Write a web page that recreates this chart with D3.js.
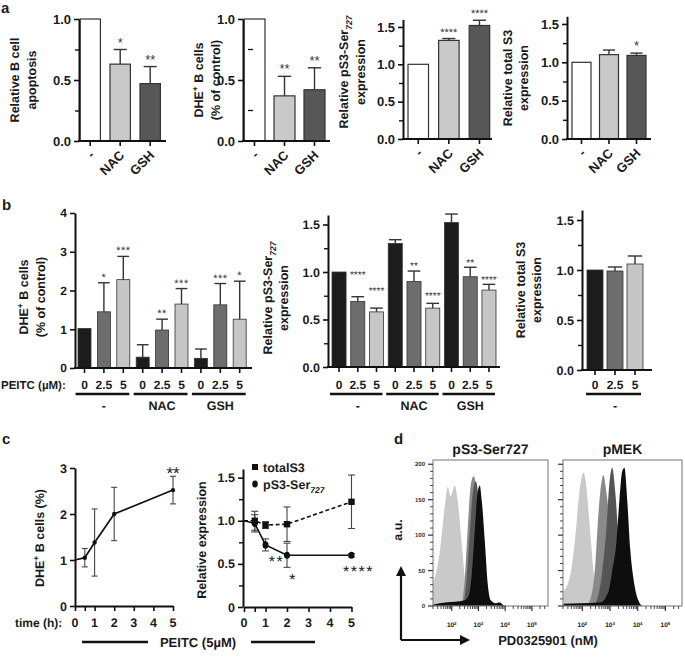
<!DOCTYPE html>
<html><head><meta charset="utf-8">
<script src="https://cdn.jsdelivr.net/npm/d3@7"></script>
<style>body{margin:0;background:#fff}svg{display:block}text{text-rendering:geometricPrecision}</style>
</head><body><svg id="c" width="685" height="657"></svg>
<script>
// ---------------- DATA ----------------
const aCats = ["-", "NAC", "GSH"];
const aApopVals = [1.0, 0.63, 0.47], aApopErr = [0, 0.12, 0.14], aApopSig = ["", "*", "**"];
const aDheVals = [1.0, 0.37, 0.42], aDheErr = [0, 0.16, 0.18], aDheSig = ["", "**", "**"];
const aPs3Vals = [1.0, 1.32, 1.52], aPs3Err = [0, 0.025, 0.07], aPs3Sig = ["", "****", "****"];
const aTotVals = [1.0, 1.10, 1.09], aTotErr = [0, 0.06, 0.03], aTotSig = ["", "", "*"];

const bGroups = ["-", "NAC", "GSH"];
const bDoses = ["0", "2.5", "5"];
const bDheVals = [1.02, 1.45, 2.28, 0.28, 0.98, 1.65, 0.25, 1.63, 1.26];
const bDheErr = [0, 0.75, 0.60, 0.32, 0.28, 0.40, 0.24, 0.55, 0.98];
const bDheSig = ["", "*", "***", "", "**", "***", "", "***", "*"];
const bPs3Vals = [1.0, 0.69, 0.58, 1.30, 0.90, 0.62, 1.52, 0.95, 0.81];
const bPs3Err = [0, 0.05, 0.04, 0.04, 0.11, 0.05, 0.09, 0.10, 0.06];
const bPs3Sig = ["", "****", "****", "", "**", "****", "", "**", "****"];
const bPs3SigAt = [null, 1.0, 0.83, null, 1.10, 0.78, null, 1.13, 0.95];
const bTotDoses = ["0", "2.5", "5"];
const bTotVals = [1.0, 0.99, 1.06], bTotErr = [0, 0.04, 0.08];

const cTimes = [0, 0.5, 1, 2, 5];
const cDheVals = [1.0, 1.05, 1.38, 2.0, 2.52], cDheErr = [0, 0.2, 0.73, 0.58, 0.3];
const cTotVals = [1.0, 1.0, 0.95, 0.96, 1.22], cTotErr = [0, 0.11, 0.04, 0.2, 0.31];
const cPs3Vals = [1.0, 0.97, 0.72, 0.6, 0.6], cPs3Err = [0, 0.1, 0.07, 0.14, 0.02];
const cPs3Sig = ["", "", "**", "*", "****"];
const cXTicks = [0, 1, 2, 3, 4, 5];

// flow histograms: [log10(intensity), count]
const dPs3Light = [[1.29,30],[1.55,75],[1.74,140],[1.85,168],[1.96,155],[2.11,170],[2.22,150],[2.37,90],[2.52,30],[2.67,5],[2.86,0]];
const dPs3Mid = [[2.37,0],[2.49,40],[2.60,110],[2.71,170],[2.82,183],[2.94,160],[3.05,100],[3.16,40],[3.27,10],[3.42,0]];
const dPs3Dark = [[2.45,0],[2.56,40],[2.67,100],[2.79,160],[2.90,176],[3.01,150],[3.12,90],[3.24,35],[3.35,8],[3.50,0]];
const dPs3Black = [[1.29,2],[1.55,4],[2.11,6],[2.49,8],[2.64,15],[2.75,45],[2.86,105],[2.97,160],[3.05,170],[3.12,150],[3.24,90],[3.35,30],[3.46,8],[3.65,4],[3.80,5],[3.95,1],[4.1,0]];
const dMekLight = [[1.31,20],[1.57,45],[1.75,100],[1.89,160],[2.04,188],[2.14,170],[2.25,120],[2.40,50],[2.54,10],[2.72,0]];
const dMekMid = [[2.11,0],[2.29,10],[2.47,60],[2.58,130],[2.69,175],[2.76,185],[2.87,160],[3.01,110],[3.16,60],[3.30,20],[3.44,5],[3.59,0]];
const dMekDark = [[2.36,0],[2.54,10],[2.72,50],[2.87,110],[2.97,170],[3.08,195],[3.19,160],[3.30,100],[3.44,50],[3.59,15],[3.73,3],[3.88,0]];
const dMekBlack = [[1.31,3],[1.93,4],[2.65,5],[2.94,20],[3.08,50],[3.23,90],[3.34,150],[3.44,190],[3.52,195],[3.62,150],[3.73,80],[3.88,30],[4.02,8],[4.17,0]];
const dYTicks = [0, 50, 100, 150, 200];
const dXLabels = [2, 3, 4, 5];

// ---------------- HELPERS ----------------
const FONT = '"Liberation Sans", Arial, Helvetica, sans-serif';
const INK = "#1a1a1a";
const svg = d3.select("#c");

function txt(g, x, y, s, fs, o = {}) {
  const t = g.append("text").attr("x", x).attr("y", y).text(s)
    .attr("font-size", fs).attr("font-family", FONT)
    .attr("font-weight", o.weight || "bold").attr("fill", o.fill || INK)
    .attr("text-anchor", o.anchor || "start");
  if (o.ls) t.attr("letter-spacing", o.ls);
  return t;
}
function rich(g, x, y, parts, fs, rot, anchor = "middle") {
  const t = g.append("text").attr("font-family", FONT).attr("font-weight", "bold")
    .attr("font-size", fs).attr("fill", INK).attr("text-anchor", anchor)
    .attr("transform", `translate(${x},${y})` + (rot ? ` rotate(${rot})` : ""));
  let shift = 0;
  parts.forEach(p => {
    const [s, kind] = typeof p === "string" ? [p, ""] : p;
    const target = kind === "sup" ? -fs * 0.38 : kind === "sub" ? fs * 0.28 : 0;
    const ts = t.append("tspan").text(s).attr("dy", target - shift);
    shift = target;
    if (kind) ts.attr("font-size", fs * 0.68);
    if (kind === "sub") ts.attr("font-style", "italic");
  });
  return t;
}
function yAxis(g, y, x, major, minor, fmt, fs, labels = true) {
  const ax = g.append("g").attr("transform", `translate(${x},0)`)
    .call(d3.axisLeft(y).tickValues(major).tickFormat(labels ? fmt : () => "").tickSize(5).tickSizeOuter(0).tickPadding(3));
  ax.select(".domain").attr("stroke", "#111").attr("stroke-width", 2);
  ax.selectAll(".tick line").attr("stroke", "#111").attr("stroke-width", 1.6);
  ax.selectAll("text").attr("font-size", fs).attr("font-weight", "bold").attr("fill", INK).attr("font-family", FONT);
  if (minor && minor.length) {
    const m = g.append("g").attr("transform", `translate(${x},0)`)
      .call(d3.axisLeft(y).tickValues(minor).tickFormat(() => "").tickSize(4).tickSizeOuter(0));
    m.select(".domain").remove();
    m.selectAll(".tick line").attr("stroke", "#111").attr("stroke-width", 1.4);
  }
}
function bars(g, o) {
  const n = o.vals.length;
  const x = d3.scaleBand().domain(d3.range(n)).range([o.x0, o.x1]).paddingInner(o.pad).paddingOuter(0);
  const y = o.y, bw = x.bandwidth();
  g.selectAll(null).data(o.vals).join("rect")
    .attr("x", (d, i) => x(i)).attr("y", d => y(d))
    .attr("width", bw).attr("height", d => y(0) - y(d))
    .attr("fill", (d, i) => o.colors[i % o.colors.length])
    .attr("stroke", "#333").attr("stroke-width", o.bs || 1);
  o.vals.forEach((v, i) => {
    const e = o.errs[i], cx = x(i) + bw / 2;
    if (e > 0) {
      g.append("line").attr("x1", cx).attr("x2", cx).attr("y1", y(v)).attr("y2", y(v + e)).attr("stroke", "#333").attr("stroke-width", 1.4);
      g.append("line").attr("x1", cx - bw * o.cap).attr("x2", cx + bw * o.cap).attr("y1", y(v + e)).attr("y2", y(v + e)).attr("stroke", "#333").attr("stroke-width", 1.4);
    }
    const s = o.sigs ? o.sigs[i] : "";
    if (s) {
      const yy = (o.sigAt && o.sigAt[i] != null) ? y(o.sigAt[i]) + o.sigFs * 0.6 : y(v + e) - o.sigGap;
      txt(g, cx, yy, s, o.sigFs, { anchor: "middle", weight: "normal", fill: "#333", ls: o.sigLs || 0 });
    }
  });
  g.append("line").attr("x1", o.left - 1).attr("x2", o.xEnd).attr("y1", y(0)).attr("y2", y(0)).attr("stroke", "#111").attr("stroke-width", 2);
  o.vals.forEach((v, i) => {
    const cx = x(i) + bw / 2;
    g.append("line").attr("x1", cx).attr("x2", cx).attr("y1", y(0)).attr("y2", y(0) + 5).attr("stroke", "#111").attr("stroke-width", 1.6);
  });
  return x;
}
const f1 = d3.format(".1f");

// ---------------- PANEL A ----------------
const aColors = ["#ffffff", "#c9c9c9", "#575757"];
const aCharts = [
  { vals: aApopVals, errs: aApopErr, sigs: aApopSig, left: 79, y0: 141, yTop: 19, max: 1.0, x0: 80, x1: 160.4, pad: 0.32, xEnd: 166,
    major: [0, 0.5, 1], minor: [0.25, 0.75], title: [[["Relative B cell"]], [["apoptosis"]]], tx: [19, 36], ty: 80 },
  { vals: aDheVals, errs: aDheErr, sigs: aDheSig, left: 243, y0: 141, yTop: 19, max: 1.0, x0: 244, x1: 325, pad: 0.3, xEnd: 330,
    major: [0, 0.5, 1], minor: [], title: [["DHE", ["+", "sup"], " B cells"], ["(% of control)"]], tx: [203, 220], ty: 80 },
  { vals: aPs3Vals, errs: aPs3Err, sigs: aPs3Sig, left: 403, y0: 139, yTop: 19.5, max: 1.6, x0: 408, x1: 489.7, pad: 0.33, xEnd: 492,
    major: [0, 0.5, 1, 1.5], minor: [0.25, 0.75, 1.25], title: [["Relative pS3-Ser", ["727", "sub"]], ["expression"]], tx: [348, 365], ty: 72 },
  { vals: aTotVals, errs: aTotErr, sigs: aTotSig, left: 567, y0: 139, yTop: 16.3, max: 1.6, x0: 572, x1: 646, pad: 0.31, xEnd: 651,
    major: [0, 0.5, 1, 1.5], minor: [0.25, 0.75, 1.25], title: [["Relative total S3"], ["expression"]], tx: [512, 528], ty: 78 },
];
const gA = svg.append("g");
txt(gA, 1, 13, "a", 15);
aCharts.forEach((c, k) => {
  const g = gA.append("g");
  const y = d3.scaleLinear().domain([0, c.max]).range([c.y0, c.yTop]);
  const x = bars(g, { vals: c.vals, errs: c.errs, sigs: c.sigs, colors: aColors, y, x0: c.x0, x1: c.x1, pad: c.pad,
    left: c.left, xEnd: c.xEnd, cap: 0.32, sigFs: k === 2 ? 11 : 13, sigGap: 3, bs: 1.2 });
  yAxis(g, y, c.left, c.major, c.minor, f1, 13);
  if (k === 1) {
    [0.25, 0.75].forEach(v => g.append("line").attr("x1", 248).attr("x2", 253).attr("y1", y(v)).attr("y2", y(v)).attr("stroke", "#111").attr("stroke-width", 1.3));
  }
  c.title.forEach((parts, j) => rich(g, c.tx[j], c.ty, parts, 12.5, -90));
  aCats.forEach((cat, i) => {
    const cx = x(i) + x.bandwidth() / 2;
    g.append("text").text(cat).attr("font-family", FONT).attr("font-weight", "bold").attr("font-size", 13).attr("fill", INK)
      .attr("text-anchor", "end").attr("transform", `translate(${cx + 5},${c.y0 + 15}) rotate(-45)`);
  });
});

// ---------------- PANEL B ----------------
const bColors = ["#1c1c1c", "#6d6d6d", "#c6c6c6"];
const gB = svg.append("g");
txt(gB, 2, 210, "b", 15);
function doseLabels(g, x, groups, doses) {
  const bw = x.bandwidth();
  groups.forEach((grp, gi) => {
    doses.forEach((d, di) => {
      const i = gi * doses.length + di;
      txt(g, x(i) + bw / 2, 389, d, 12, { anchor: "middle" });
    });
    const first = x(gi * doses.length) + bw / 2, last = x(gi * doses.length + doses.length - 1) + bw / 2;
    g.append("line").attr("x1", first - 9).attr("x2", last + 6).attr("y1", 394).attr("y2", 394).attr("stroke", "#111").attr("stroke-width", 2.6);
    txt(g, (first + last) / 2, 410, grp, 12.5, { anchor: "middle" });
  });
}
{ // b1
  const g = gB.append("g");
  const y = d3.scaleLinear().domain([0, 4]).range([368, 213]);
  const x = bars(g, { vals: bDheVals, errs: bDheErr, sigs: bDheSig, colors: bColors, y, x0: 78, x1: 246.2, pad: 0.33,
    left: 75, xEnd: 252, cap: 0.45, sigFs: 11, sigGap: 2, sigLs: 0.5, bs: 0.8 });
  yAxis(g, y, 75, [0, 1, 2, 3, 4], [], d3.format("d"), 12);
  rich(g, 28, 297, ["DHE", ["+", "sup"], " B cells"], 12.5, -90);
  rich(g, 45, 297, ["(% of control)"], 12.5, -90);
  txt(g, 1, 389, "PEITC (\u00b5M):", 11.5);
  doseLabels(g, x, bGroups, bDoses);
}
{ // b2
  const g = gB.append("g");
  const y = d3.scaleLinear().domain([0, 1.6]).range([367, 215]);
  const x = bars(g, { vals: bPs3Vals, errs: bPs3Err, sigs: bPs3Sig, sigAt: bPs3SigAt, colors: bColors, y, x0: 332, x1: 496, pad: 0.25,
    left: 328, xEnd: 500, cap: 0.45, sigFs: 10, sigGap: 2, bs: 0.8 });
  yAxis(g, y, 328, [0, 0.5, 1, 1.5], [0.25, 0.75, 1.25], f1, 12.5);
  rich(g, 272, 298, ["Relative pS3-Ser", ["727", "sub"]], 12.5, -90);
  rich(g, 288, 298, ["expression"], 12.5, -90);
  doseLabels(g, x, bGroups, bDoses);
}
{ // b3
  const g = gB.append("g");
  const y = d3.scaleLinear().domain([0, 1.6]).range([370, 210]);
  const x = bars(g, { vals: bTotVals, errs: bTotErr, sigs: null, colors: bColors, y, x0: 587, x1: 643, pad: 0.2,
    left: 582, xEnd: 652, cap: 0.45, sigFs: 10, sigGap: 2, bs: 0.8 });
  yAxis(g, y, 582, [0, 0.5, 1, 1.5], [0.25, 0.75, 1.25], f1, 12.5);
  rich(g, 525, 290, ["Relative total S3"], 12.5, -90);
  rich(g, 541, 290, ["expression"], 12.5, -90);
  doseLabels(g, x, ["-"], bTotDoses);
}

// ---------------- PANEL C ----------------
const gC = svg.append("g");
txt(gC, 2, 444, "c", 15);
function xAxisC(g, x, y0) {
  const ax = g.append("g").attr("transform", `translate(0,${y0})`)
    .call(d3.axisBottom(x).tickValues([0, 0.5, 1, 2, 3, 4, 5]).tickFormat(() => "").tickSize(5).tickSizeOuter(0));
  ax.select(".domain").attr("stroke", "#111").attr("stroke-width", 2);
  ax.selectAll(".tick line").attr("stroke", "#111").attr("stroke-width", 1.6);
  cXTicks.forEach(t => txt(g, x(t), 627, String(t), 12.5, { anchor: "middle" }));
}
function errBars(g, x, y, vals, errs, cap) {
  vals.forEach((v, i) => {
    const e = errs[i]; if (!(e > 0)) return;
    const cx = x(cTimes[i]);
    g.append("line").attr("x1", cx).attr("x2", cx).attr("y1", y(v - e)).attr("y2", y(v + e)).attr("stroke", "#444").attr("stroke-width", 1.1);
    [v - e, v + e].forEach(w => g.append("line").attr("x1", cx - cap).attr("x2", cx + cap).attr("y1", y(w)).attr("y2", y(w)).attr("stroke", "#444").attr("stroke-width", 1.1));
  });
}
{ // c1
  const g = gC.append("g");
  const x = d3.scaleLinear().domain([0, 5]).range([75, 173]);
  const y = d3.scaleLinear().domain([0, 3]).range([606, 468]);
  yAxis(g, y, 75, [0, 1, 2, 3], [], d3.format("d"), 12.5);
  xAxisC(g, x, 606);
  errBars(g, x, y, cDheVals, cDheErr, 3);
  g.append("path").datum(cTimes.map((t, i) => [t, cDheVals[i]]))
    .attr("d", d3.line().x(d => x(d[0])).y(d => y(d[1]))).attr("fill", "none").attr("stroke", "#111").attr("stroke-width", 1.7);
  cTimes.forEach((t, i) => { if (t > 0) g.append("circle").attr("cx", x(t)).attr("cy", y(cDheVals[i])).attr("r", 2.2).attr("fill", "#111"); });
  txt(g, x(5), y(cDheVals[4] + cDheErr[4]) + 3, "**", 17, { anchor: "middle", weight: "normal", fill: "#222" });
  rich(g, 44, 538, ["DHE", ["+", "sup"], " B cells (%)"], 12.5, -90);
  txt(g, 15, 627, "time (h):", 12);
  g.append("line").attr("x1", 82).attr("x2", 148).attr("y1", 642).attr("y2", 642).attr("stroke", "#111").attr("stroke-width", 2.6);
  txt(g, 198, 647, "PEITC (5\u00b5M)", 13, { anchor: "middle" });
  g.append("line").attr("x1", 251).attr("x2", 315).attr("y1", 642).attr("y2", 642).attr("stroke", "#111").attr("stroke-width", 2.6);
}
{ // c2
  const g = gC.append("g");
  const x = d3.scaleLinear().domain([0, 5]).range([244, 351.5]);
  const y = d3.scaleLinear().domain([0, 1.6]).range([607, 469]);
  yAxis(g, y, 243, [0, 0.5, 1, 1.5], [0.25, 0.75, 1.25], d => d === 0 ? "0" : f1(d), 12.5);
  xAxisC(g, x, 607);
  errBars(g, x, y, cTotVals, cTotErr, 3.5);
  errBars(g, x, y, cPs3Vals, cPs3Err, 3.5);
  const line = d3.line().x(d => x(d[0])).y(d => y(d[1]));
  g.append("path").datum(cTimes.map((t, i) => [t, cTotVals[i]])).attr("d", line)
    .attr("fill", "none").attr("stroke", "#111").attr("stroke-width", 1.6).attr("stroke-dasharray", "4,2.5");
  g.append("path").datum(cTimes.map((t, i) => [t, cPs3Vals[i]])).attr("d", line)
    .attr("fill", "none").attr("stroke", "#111").attr("stroke-width", 1.6);
  cTimes.forEach((t, i) => {
    if (t === 0) return;
    g.append("rect").attr("x", x(t) - 3.2).attr("y", y(cTotVals[i]) - 3.2).attr("width", 6.4).attr("height", 6.4).attr("fill", "#111");
    g.append("ellipse").attr("cx", x(t)).attr("cy", y(cPs3Vals[i])).attr("rx", 3).attr("ry", 3.6).attr("fill", "#111");
  });
  const sigOff = [null, null, [11, 22], [6, 30], [7, 22]];
  cPs3Sig.forEach((s, i) => {
    if (!s) return;
    txt(g, x(cTimes[i]) + sigOff[i][0], y(cPs3Vals[i]) + sigOff[i][1], s, 16, { anchor: "middle", weight: "normal", fill: "#222", ls: 1.5 });
  });
  g.append("rect").attr("x", 252).attr("y", 464).attr("width", 6).attr("height", 6).attr("fill", "#111");
  txt(g, 263, 472, "totalS3", 12.5);
  g.append("ellipse").attr("cx", 255).attr("cy", 484).attr("rx", 2.8).attr("ry", 3.4).attr("fill", "#111");
  rich(g, 263, 489, ["pS3-Ser", ["727", "sub"]], 12.5, 0, "start");
  rich(g, 206, 540, ["Relative expression"], 12.5, -90);
}

// ---------------- PANEL D ----------------
const gD = svg.append("g");
txt(gD, 394, 444, "d", 15);
const dColors = ["#c9c9c9", "#8a8a8a", "#555555", "#0e0e0e"];
function flowBox(left, right, title, hists, showLabels, clipId) {
  const g = gD.append("g");
  const top = 460, bottom = 606;
  const x = d3.scaleLog().domain([Math.pow(10, 1.3), Math.pow(10, 5.6)]).range([left, right]);
  const y = d3.scaleLinear().domain([0, 206]).range([bottom, top]);
  g.append("clipPath").attr("id", clipId).append("rect").attr("x", left).attr("y", top).attr("width", right - left).attr("height", bottom - top);
  const area = d3.area().x(d => x(Math.pow(10, d[0]))).y0(bottom).y1(d => y(d[1])).curve(d3.curveMonotoneX);
  hists.forEach((h, i) => g.append("path").datum(h).attr("d", area).attr("fill", dColors[i]).attr("clip-path", `url(#${clipId})`));
  g.append("rect").attr("x", left).attr("y", top).attr("width", right - left).attr("height", bottom - top)
    .attr("fill", "none").attr("stroke", "#8a8a8a").attr("stroke-width", 1.2);
  d3.range(0, 201, 10).forEach(v => {
    const major = v % 50 === 0;
    g.append("line").attr("x1", left - (major ? 5 : 3)).attr("x2", left).attr("y1", y(v)).attr("y2", y(v)).attr("stroke", "#333").attr("stroke-width", major ? 1.2 : 0.9);
  });
  if (showLabels) dYTicks.forEach(v => txt(g, left - 8, y(v) + 2, String(v), 6, { anchor: "end", weight: "bold", fill: "#333" }));
  x.ticks().forEach(t => {
    const lg = Math.log10(t), major = Math.abs(lg - Math.round(lg)) < 1e-6;
    g.append("line").attr("x1", x(t)).attr("x2", x(t)).attr("y1", bottom).attr("y2", bottom + (major ? 5 : 3)).attr("stroke", "#333").attr("stroke-width", major ? 1.2 : 0.9);
  });
  dXLabels.forEach(p => rich(g, x(Math.pow(10, p)), 627, ["10", [String(p), "sup"]], 6.5, 0, "middle"));
  txt(g, (left + right) / 2, 454, title, 14, { anchor: "middle" });
}
flowBox(433, 548, "pS3-Ser727", [dPs3Light, dPs3Mid, dPs3Dark, dPs3Black], true, "clip1");
flowBox(563, 682, "pMEK", [dMekLight, dMekMid, dMekDark, dMekBlack], false, "clip2");
rich(gD, 402, 530, ["a.u."], 12.5, -90);
gD.append("path").attr("d", "M401,640 L401,574 M401,640 L462,640").attr("fill", "none").attr("stroke", "#111").attr("stroke-width", 2.2);
gD.append("path").attr("d", "M396,576 L401,566 L406,576 Z").attr("fill", "#111");
gD.append("path").attr("d", "M460,635 L470,640 L460,645 Z").attr("fill", "#111");
txt(gD, 548, 645, "PD0325901 (nM)", 13, { anchor: "middle" });
</script></body></html>
